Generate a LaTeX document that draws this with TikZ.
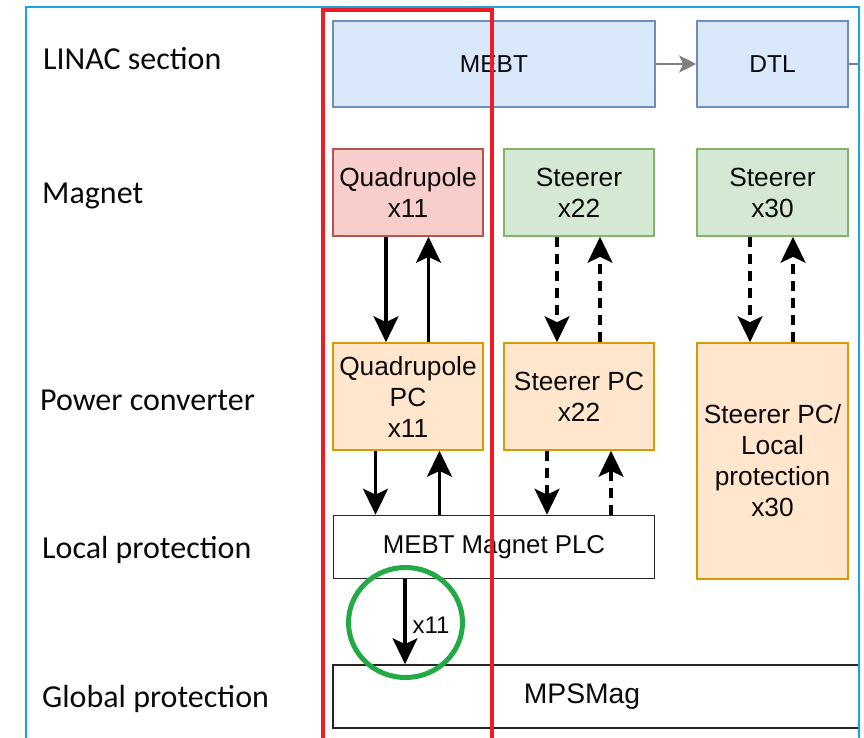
\documentclass[tikz,border=0pt]{standalone}
\usepackage{fontspec}
\setmainfont{Liberation Sans}
\newfontfamily\rowfont{Carlito}
\usetikzlibrary{arrows.meta}

\definecolor{secfill}{HTML}{DAE8FC}
\definecolor{secdraw}{HTML}{6C8EBF}
\definecolor{qfill}{HTML}{F8CECC}
\definecolor{qdraw}{HTML}{B85450}
\definecolor{sfill}{HTML}{D5E8D4}
\definecolor{sdraw}{HTML}{82B366}
\definecolor{pcfill}{HTML}{FFE6CC}
\definecolor{pcdraw}{HTML}{D79B00}
\definecolor{frameblue}{HTML}{1BA1E2}
\definecolor{markred}{HTML}{EE1C25}
\definecolor{markgreen}{HTML}{22AA44}
\definecolor{txt}{HTML}{0A0A0A}

\begin{document}
\begin{tikzpicture}[x=1pt,y=-1pt,
  boxtext/.style={font=\fontsize{26.3}{31}\selectfont, text=txt},
  box/.style={rectangle, draw, line width=1.6pt, inner sep=0pt, align=center, boxtext},
  secbox/.style={box, fill=secfill, draw=secdraw, font=\fontsize{24.5}{30}\selectfont},
  quadbox/.style={box, fill=qfill, draw=qdraw},
  steerbox/.style={box, fill=sfill, draw=sdraw},
  pcbox/.style={box, fill=pcfill, draw=pcdraw},
  plainbox/.style={box, fill=white, draw=black!85},
  rowlabel/.style={anchor=base west, inner sep=0pt, font=\rowfont\fontsize{32}{36}\selectfont, text=txt},
  arr/.style={line width=3.2pt, black, -{Stealth[length=26pt, width=25pt, inset=6pt]}},
  darr/.style={arr, dash pattern=on 10pt off 7pt},
  flow/.style={line width=2pt, black!50, -{Stealth[length=17pt, width=17pt, inset=4pt]}}
]
\useasboundingbox (0,0) rectangle (864,738);

% row labels
\node[rowlabel] (lsec)  at (43,70)  {LINAC section};
\node[rowlabel] (lmag)  at (42,204) {Magnet};
\node[rowlabel] (lpc)   at (40,410) {Power converter};
\node[rowlabel] (lloc)  at (42,558) {Local protection};
\node[rowlabel] (lglob) at (42,707) {Global protection};

\begin{scope}
\clip (26,7) rectangle (859,760);

% LINAC sections
\node[secbox, minimum width=322pt, minimum height=86pt] (mebt) at (494,64) {MEBT};
\node[secbox, minimum width=151pt, minimum height=86pt] (dtl) at (772.5,64) {DTL};
\coordinate (dtlout) at (880,64);
\draw[flow] (mebt) -- (dtl);
\draw[line width=2pt, black!50] (dtl) -- (dtlout);

% magnets
\node[quadbox, minimum width=150pt, minimum height=87pt] (qm) at (408,192.5) {Quadrupole\\x11};
\node[steerbox, minimum width=150pt, minimum height=87pt] (sm) at (579,192.5) {Steerer\\x22};
\node[steerbox, minimum width=151pt, minimum height=87pt] (dm) at (772.5,192.5) {Steerer\\x30};

% power converters
\node[pcbox, minimum width=150pt, minimum height=107pt] (qpc) at (408,396.5) {Quadrupole\\PC\\x11};
\node[pcbox, minimum width=150pt, minimum height=107pt] (spc) at (579,396.5) {Steerer PC\\x22};
\node[pcbox, minimum width=151pt, minimum height=236pt] (dpc) at (772.5,461) {Steerer PC/\\Local\\protection\\x30};

% protection
\node[plainbox, minimum width=321pt, minimum height=63pt, font=\fontsize{25.8}{31}\selectfont] (plc) at (494,547) {MEBT Magnet PLC};
\node[plainbox, minimum width=557pt, minimum height=63pt] (mps) at (611.5,696.5) {};
\node[boxtext, font=\fontsize{28.3}{32}\selectfont] (mpstext) at (582,697) {MPSMag};

% magnet <-> power converter
\draw[arr]  ([xshift=-22pt]qm.south) -- ([xshift=-22pt]qm.south |- qpc.north);
\draw[arr]  ([xshift=20.5pt]qm.south |- qpc.north) -- ([xshift=20.5pt]qm.south);
\draw[darr] ([xshift=-22pt]sm.south) -- ([xshift=-22pt]sm.south |- spc.north);
\draw[darr] ([xshift=21pt]sm.south |- spc.north) -- ([xshift=21pt]sm.south);
\draw[darr] ([xshift=-22.5pt]dm.south) -- ([xshift=-22.5pt]dm.south |- dpc.north);
\draw[darr] ([xshift=20.5pt]dm.south |- dpc.north) -- ([xshift=20.5pt]dm.south);

% power converter <-> PLC
\draw[arr]  ([xshift=-32.5pt]qpc.south) -- ([xshift=-32.5pt]qpc.south |- plc.north);
\draw[arr]  ([xshift=31.5pt]qpc.south |- plc.north) -- ([xshift=31.5pt]qpc.south);
\draw[darr] ([xshift=-32pt]spc.south) -- ([xshift=-32pt]spc.south |- plc.north);
\draw[darr] ([xshift=32pt]spc.south |- plc.north) -- ([xshift=32pt]spc.south);

% PLC -> MPS
\draw[arr] ([xshift=-89pt]plc.south) -- ([xshift=-89pt]plc.south |- mps.north)
  node[midway, anchor=west, inner sep=0pt, xshift=6pt, yshift=-3pt, font=\fontsize{24}{28}\selectfont, text=txt] (mult) {x11};
\end{scope}

% outer frame
\draw[frameblue, line width=2pt] (26,760) -- (26,7) -- (859,7) -- (859,760);

% highlights
\draw[markred, line width=3.5pt] (323,760) -- (323,10) -- (492,10) -- (492,760);
\draw[markgreen, line width=5pt] (405.5,622.5) ellipse [x radius=57pt, y radius=55pt];
\end{tikzpicture}
\end{document}
